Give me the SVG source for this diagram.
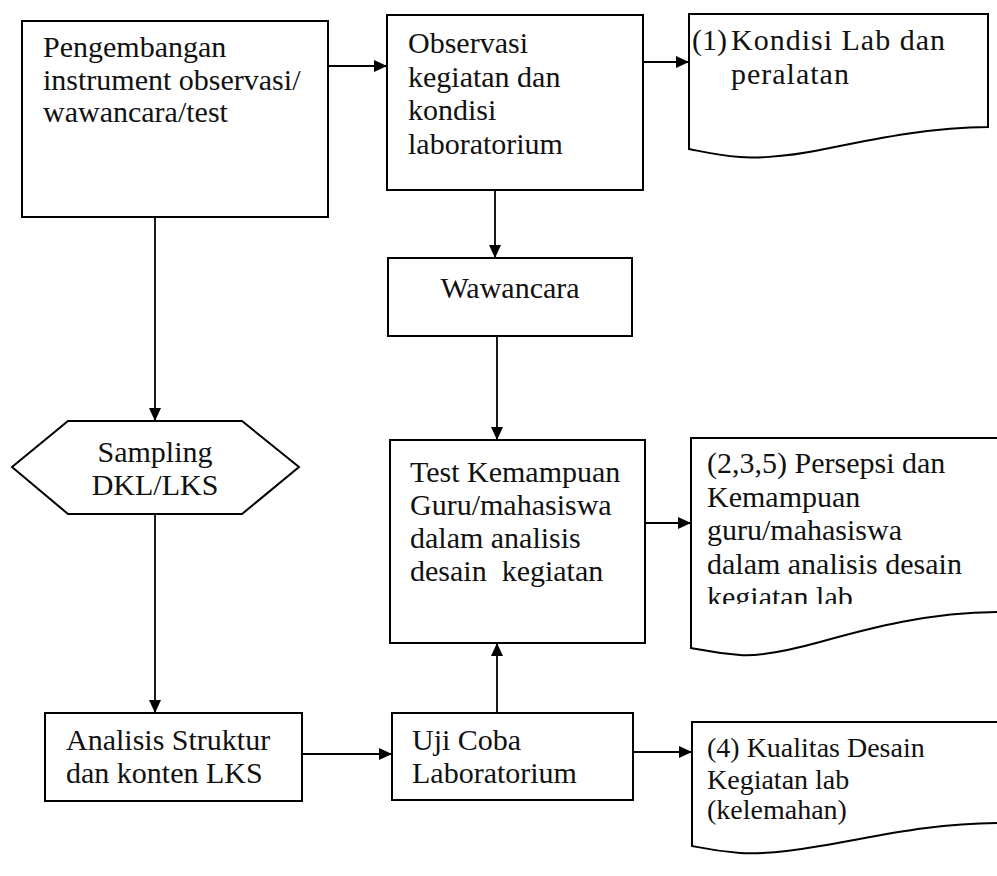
<svg xmlns="http://www.w3.org/2000/svg" width="997" height="876" viewBox="0 0 997 876">
  <style>
    .shape { fill: #ffffff; stroke: #000000; stroke-width: 2; }
    .edge { fill: none; stroke: #000000; stroke-width: 1.8; marker-end: url(#arrow); }
    text { font-family: "Liberation Serif", "Times New Roman", serif; font-size: 30px; fill: #111111; }
    .spaced { letter-spacing: 1px; }
    .small { font-size: 28px; }
    .mid { text-anchor: middle; }
  </style>
  <defs>
    <marker id="arrow" markerUnits="userSpaceOnUse" markerWidth="14" markerHeight="12" refX="13" refY="6" orient="auto">
      <path d="M0,0 L13,6 L0,12 Z" fill="#000000"/>
    </marker>
    <clipPath id="clipDoc2">
      <rect x="690" y="438" width="307" height="166"/>
    </clipPath>
  </defs>

  <rect width="997" height="876" fill="#ffffff"/>

  <!-- connectors -->
  <g id="connectors">
    <path class="edge" d="M328,66 H387"/>
    <path class="edge" d="M643,62 H689"/>
    <path class="edge" d="M495,190 V258"/>
    <path class="edge" d="M497,336 V440"/>
    <path class="edge" d="M155,217 V421"/>
    <path class="edge" d="M155,514 V713"/>
    <path class="edge" d="M302,754 H392"/>
    <path class="edge" d="M497,713 V643"/>
    <path class="edge" d="M645,523 H691"/>
    <path class="edge" d="M633,752 H692"/>
  </g>

  <!-- process boxes -->
  <g id="pengembangan">
    <rect class="shape" x="22" y="21" width="306" height="196"/>
    <text x="43" y="57">Pengembangan</text>
    <text x="43" y="90">instrument observasi/</text>
    <text x="43" y="122">wawancara/test</text>
  </g>

  <g id="observasi">
    <rect class="shape" x="387" y="15" width="256" height="175"/>
    <text x="408" y="53">Observasi</text>
    <text x="408" y="87">kegiatan dan</text>
    <text x="408" y="120">kondisi</text>
    <text x="408" y="154">laboratorium</text>
  </g>

  <g id="wawancara">
    <rect class="shape" x="388" y="258" width="244" height="78"/>
    <text class="mid" x="510" y="298">Wawancara</text>
  </g>

  <g id="test-kemampuan">
    <rect class="shape" x="390" y="440" width="255" height="203"/>
    <text x="410" y="482">Test Kemampuan</text>
    <text x="410" y="515">Guru/mahasiswa</text>
    <text x="410" y="548">dalam analisis</text>
    <text x="410" y="581" xml:space="preserve">desain  kegiatan</text>
  </g>

  <g id="sampling">
    <polygon class="shape" points="12,467 68,421 242,421 299,467 242,514 68,514"/>
    <text class="mid" x="155" y="462">Sampling</text>
    <text class="mid" x="155" y="495">DKL/LKS</text>
  </g>

  <g id="analisis">
    <rect class="shape" x="45" y="713" width="257" height="88"/>
    <text x="66" y="750">Analisis Struktur</text>
    <text x="66" y="783">dan konten LKS</text>
  </g>

  <g id="uji-coba">
    <rect class="shape" x="392" y="713" width="241" height="87"/>
    <text x="412" y="750">Uji Coba</text>
    <text x="412" y="783">Laboratorium</text>
  </g>

  <!-- output documents -->
  <g id="doc-kondisi">
    <path class="shape" d="M689,14 H988 V127 C930,127 870,140 820,150 C780,158 750,158 740,157 C715,155 700,151 689,149 Z"/>
    <text x="692" y="50">(1)</text>
    <text class="spaced" x="731" y="50">Kondisi Lab dan</text>
    <text class="spaced" x="731" y="84">peralatan</text>
  </g>

  <g id="doc-persepsi">
    <path class="shape" d="M691,438 H1000 V612 C930,612 870,628 820,642 C780,653 755,656 740,655 C715,653 702,650 691,648 Z"/>
    <g clip-path="url(#clipDoc2)">
      <text x="707" y="473">(2,3,5) Persepsi dan</text>
      <text x="707" y="507">Kemampuan</text>
      <text x="707" y="540">guru/mahasiswa</text>
      <text x="707" y="574">dalam analisis desain</text>
      <text x="707" y="607">kegiatan lab</text>
    </g>
  </g>

  <g id="doc-kualitas">
    <path class="shape" d="M692,722 H1000 V823 C930,823 870,838 820,846 C780,853 755,854 740,853 C715,851 702,848 692,846 Z"/>
    <text class="small" x="707" y="757">(4) Kualitas Desain</text>
    <text class="small" x="707" y="789">Kegiatan lab</text>
    <text class="small" x="707" y="819">(kelemahan)</text>
  </g>
</svg>
